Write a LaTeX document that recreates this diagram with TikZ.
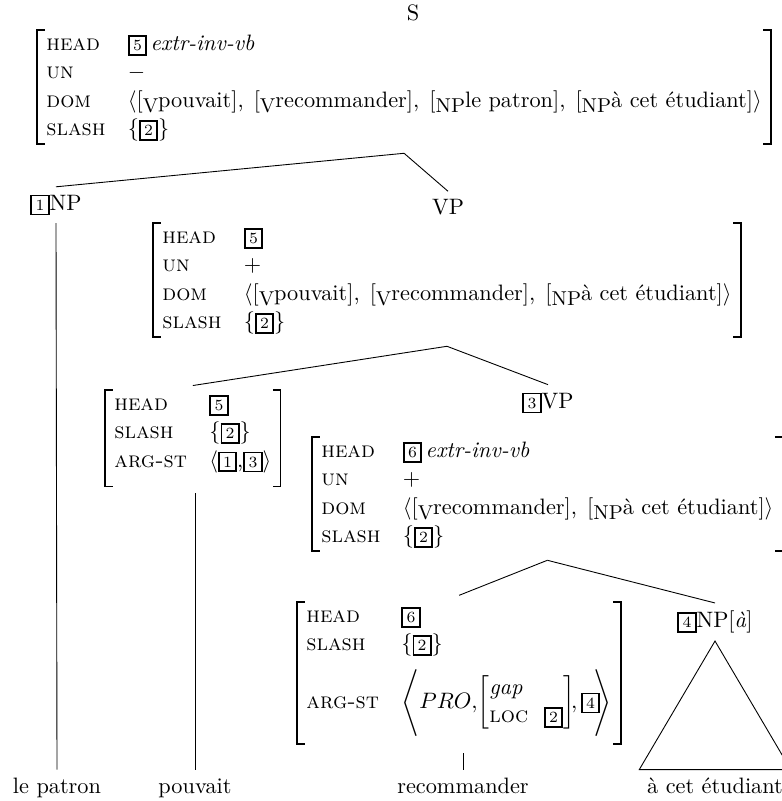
\documentclass[tikz,border=0pt]{standalone}
\usepackage{amsmath}
\usepackage{fontspec}
\renewcommand{\arraystretch}{1.06}
\newcommand{\tg}[1]{{\setlength{\fboxsep}{1.5pt}\setlength{\fboxrule}{0.8pt}\fbox{\scriptsize #1}}}
\newcommand{\ft}[1]{\textsc{#1}}
\newcommand{\ct}[2]{[\raisebox{-2.5pt}{\small #1}#2]}
\newcommand{\dsep}{,\hspace{4.5pt}}
\newcommand{\avm}[2][10pt]{\begin{tabular}{@{}l@{\hspace{#1}}l@{}}#2\end{tabular}}
% square brackets round an AVM node
\newcommand{\avmbrk}[1]{%
  \draw[brk] ([xshift=3.5pt]#1.north west) -| (#1.south west) -- ++(3.5pt,0);
  \draw[brk] ([xshift=-3.5pt]#1.north east) -| (#1.south east) -- ++(-3.5pt,0);}

\begin{document}
\begin{tikzpicture}[x=0.4484pt,y=-0.4484pt,
    avm/.style={inner xsep=4pt,inner ysep=0pt,anchor=north west},
    brk/.style={line width=0.8pt},
    leaf/.style={anchor=base}]
  \useasboundingbox (0,0) rectangle (782,801);
  % S
  \node (s) at (413,13) {S};
  \node[avm] (topavm) at (37,30) {\avm{%
      \ft{head} & \tg{5}\,\textit{extr-inv-vb}\\
      \ft{un} & $-$\\
      \ft{dom} & $\langle$\ct{V}{pouvait}\dsep\ct{V}{recommander}\dsep\ct{NP}{le patron}\dsep\ct{NP}{à cet étudiant}$\rangle$\\
      \ft{slash} & $\{$\tg{2}$\}$}};
  \avmbrk{topavm}
  \node (np1) at (56,205) {\tg{1}NP};
  \node (vp) at (448,207) {VP};
  \draw ([yshift=-4pt]topavm.south) -- (np1.north);
  \draw ([yshift=-4pt]topavm.south) -- (vp.north);
  % VP
  \node[avm] (vpavm) at (153,223) {\avm{%
      \ft{head} & \tg{5}\\
      \ft{un} & $+$\\
      \ft{dom} & $\langle$\ct{V}{pouvait}\dsep\ct{V}{recommander}\dsep\ct{NP}{à cet étudiant}$\rangle$\\
      \ft{slash} & $\{$\tg{2}$\}$}};
  \avmbrk{vpavm}
  \node[avm] (vavm) at (105,390) {\avm{%
      \ft{head} & \tg{5}\\
      \ft{slash} & $\{$\tg{2}$\}$\\
      \ft{arg-st} & $\langle$\tg{1},\tg{3}$\rangle$\rule[-8.5pt]{0pt}{1pt}}};
  \avmbrk{vavm}
  \node (vp3) at (548,403) {\tg{3}VP};
  \draw ([yshift=-4pt]vpavm.south) -- ([yshift=2pt]vavm.north);
  \draw ([yshift=-4pt]vpavm.south) -- (vp3.north);
  % 3VP
  \node[avm] (vp3avm) at (312,437) {\avm{%
      \ft{head} & \tg{6}\,\textit{extr-inv-vb}\\
      \ft{un} & $+$\\
      \ft{dom} & $\langle$\ct{V}{recommander}\dsep\ct{NP}{à cet étudiant}$\rangle$\hspace{6pt}\\
      \ft{slash} & $\{$\tg{2}$\}$}};
  \avmbrk{vp3avm}
  \node[avm] (recavm) at (297,602) {\avm{%
      \ft{head} & \tg{6}\\
      \ft{slash} & $\{$\tg{2}$\}$\\
      \ft{arg-st} & $\left\langle\rule[-16pt]{0pt}{38pt}PRO{,}\!\left[\avm[7pt]{\textit{gap} & \\ \ft{loc} & \tg{2}}\right]\!\!,\tg{4}\mkern-5mu\right\rangle$}};
  \avmbrk{recavm}
  \node (np4) at (715,622) {\tg{4}NP[\textit{à}]};
  \draw ([yshift=-4pt]vp3avm.south) -- ([yshift=3pt]recavm.north);
  \draw ([yshift=-4pt]vp3avm.south) -- (np4.north);
  % leaves
  \node[leaf] (patron) at (57,793) {le patron};
  \node[leaf] (pouvait) at (195,793) {pouvait};
  \node[leaf] (recomm) at (463,793) {recommander};
  \node[leaf] (etud) at (715,793) {à cet étudiant};
  \draw (np1.south) -- (patron.north);
  \draw ([yshift=-3pt]pouvait.north |- vavm.south) -- (pouvait.north);
  \draw ([yshift=-4pt]recomm.north |- recavm.south) -- (recomm.north);
  \draw (np4.south) -- (etud.north west) -- (etud.north east) -- cycle;
\end{tikzpicture}
\end{document}
